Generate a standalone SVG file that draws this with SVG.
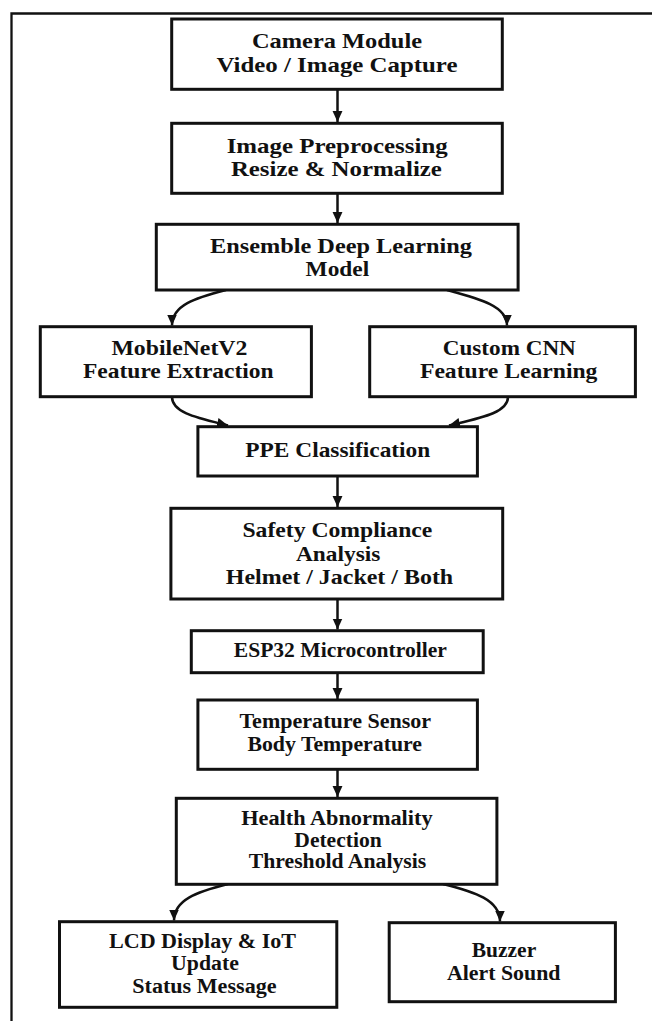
<svg xmlns="http://www.w3.org/2000/svg" width="652" height="1021" viewBox="0 0 652 1021">
<style>
.box{fill:#fff;stroke:#111;stroke-width:3}
.t{font-family:"Liberation Serif","Times New Roman",serif;font-weight:bold;font-size:21px;fill:#111;text-anchor:middle}
.s{font-size:20px}
.c{fill:none;stroke:#111;stroke-width:2.5}
</style>
<defs>
<marker id="ah" markerUnits="userSpaceOnUse" markerWidth="11" markerHeight="11" viewBox="0 0 10 10" refX="10" refY="5" orient="auto">
<path d="M0,0.5 L10,5 L0,9.5 z" fill="#111"/>
</marker>
</defs>
<rect width="652" height="1021" fill="#fff"/>
<path d="M11.5,1021 V13.5 H652" fill="none" stroke="#111" stroke-width="2.3"/>

<g id="connectors">
<line class="c" x1="337.5" y1="89" x2="337.5" y2="122" marker-end="url(#ah)"/>
<line class="c" x1="337.5" y1="193" x2="337.5" y2="223" marker-end="url(#ah)"/>
<path class="c" d="M226,290 C195,298 172,305 172,325.5" marker-end="url(#ah)"/>
<path class="c" d="M447,290 C480,299 507,306 507,325.5" marker-end="url(#ah)"/>
<path class="c" d="M172,397 C172,413 198,418 228,425.5" marker-end="url(#ah)"/>
<path class="c" d="M508,397 C508,413 480,418 449,425.5" marker-end="url(#ah)"/>
<line class="c" x1="337.5" y1="476" x2="337.5" y2="507" marker-end="url(#ah)"/>
<line class="c" x1="337.5" y1="599" x2="337.5" y2="629.5" marker-end="url(#ah)"/>
<line class="c" x1="337.5" y1="672.5" x2="337.5" y2="699" marker-end="url(#ah)"/>
<line class="c" x1="337.5" y1="769" x2="337.5" y2="797" marker-end="url(#ah)"/>
<path class="c" d="M228,884 C196,892 174,900 174,920.5" marker-end="url(#ah)"/>
<path class="c" d="M443,884 C475,892 500,900 500,921.5" marker-end="url(#ah)"/>
</g>

<g id="camera">
<rect class="box" x="171.7" y="19" width="330.6" height="70.3"/>
<text class="t" x="337" y="47.7" textLength="170" lengthAdjust="spacingAndGlyphs">Camera Module</text>
<text class="t" x="337" y="71.7" textLength="241" lengthAdjust="spacingAndGlyphs">Video / Image Capture</text>
</g>
<g id="preprocess">
<rect class="box" x="171.7" y="123.3" width="330.6" height="70"/>
<text class="t" x="337.2" y="152.7" textLength="221" lengthAdjust="spacingAndGlyphs">Image Preprocessing</text>
<text class="t" x="336.4" y="176" textLength="211" lengthAdjust="spacingAndGlyphs">Resize &amp; Normalize</text>
</g>
<g id="ensemble">
<rect class="box" x="156.3" y="224.3" width="361.8" height="65.7"/>
<text class="t" x="341" y="252.7" textLength="262" lengthAdjust="spacingAndGlyphs">Ensemble Deep Learning</text>
<text class="t" x="337.4" y="276" textLength="63.6" lengthAdjust="spacingAndGlyphs">Model</text>
</g>
<g id="mobilenet">
<rect class="box" x="40.3" y="326.7" width="271.1" height="70"/>
<text class="t" x="179.4" y="355" textLength="136" lengthAdjust="spacingAndGlyphs">MobileNetV2</text>
<text class="t" x="178.3" y="378.3" textLength="190.6" lengthAdjust="spacingAndGlyphs">Feature Extraction</text>
</g>
<g id="customcnn">
<rect class="box" x="369.7" y="326.7" width="265.7" height="70"/>
<text class="t" x="509.3" y="355" textLength="133" lengthAdjust="spacingAndGlyphs">Custom CNN</text>
<text class="t" x="508.7" y="378.3" textLength="177.5" lengthAdjust="spacingAndGlyphs">Feature Learning</text>
</g>
<g id="ppe">
<rect class="box" x="197.9" y="426.7" width="279.5" height="49.3"/>
<text class="t" x="337.8" y="456.7" textLength="185" lengthAdjust="spacingAndGlyphs">PPE Classification</text>
</g>
<g id="safety">
<rect class="box" x="170.9" y="508.3" width="331.8" height="90.7"/>
<text class="t" x="337.4" y="536.7" textLength="190" lengthAdjust="spacingAndGlyphs">Safety Compliance</text>
<text class="t" x="338.2" y="560.7" textLength="84.4" lengthAdjust="spacingAndGlyphs">Analysis</text>
<text class="t" x="339.5" y="584" textLength="227.4" lengthAdjust="spacingAndGlyphs">Helmet / Jacket / Both</text>
</g>
<g id="esp32">
<rect class="box" x="191.3" y="630.7" width="291.9" height="42"/>
<text class="t s" x="340.3" y="657" textLength="213" lengthAdjust="spacingAndGlyphs">ESP32 Microcontroller</text>
</g>
<g id="tempsensor">
<rect class="box" x="197.9" y="700" width="279.5" height="69.3"/>
<text class="t" x="335.3" y="728.3" textLength="191.7" lengthAdjust="spacingAndGlyphs">Temperature Sensor</text>
<text class="t" x="334.7" y="750.7" textLength="174.6" lengthAdjust="spacingAndGlyphs">Body Temperature</text>
</g>
<g id="health">
<rect class="box" x="176.3" y="798.3" width="320.6" height="86"/>
<text class="t s" x="336.9" y="825" textLength="191.4" lengthAdjust="spacingAndGlyphs">Health Abnormality</text>
<text class="t s" x="338" y="847.3" textLength="87.3" lengthAdjust="spacingAndGlyphs">Detection</text>
<text class="t s" x="337.5" y="868.3" textLength="177.5" lengthAdjust="spacingAndGlyphs">Threshold Analysis</text>
</g>
<g id="lcd">
<rect class="box" x="59.5" y="921.7" width="277.3" height="85.6"/>
<text class="t s" x="202.5" y="948" textLength="187" lengthAdjust="spacingAndGlyphs">LCD Display &amp; IoT</text>
<text class="t s" x="205" y="970" textLength="67.8" lengthAdjust="spacingAndGlyphs">Update</text>
<text class="t s" x="204.4" y="992.5" textLength="144.3" lengthAdjust="spacingAndGlyphs">Status Message</text>
</g>
<g id="buzzer">
<rect class="box" x="389.2" y="922.7" width="226.2" height="79"/>
<text class="t" x="504" y="956.7" textLength="64.4" lengthAdjust="spacingAndGlyphs">Buzzer</text>
<text class="t" x="503.7" y="980" textLength="113.5" lengthAdjust="spacingAndGlyphs">Alert Sound</text>
</g>
</svg>
